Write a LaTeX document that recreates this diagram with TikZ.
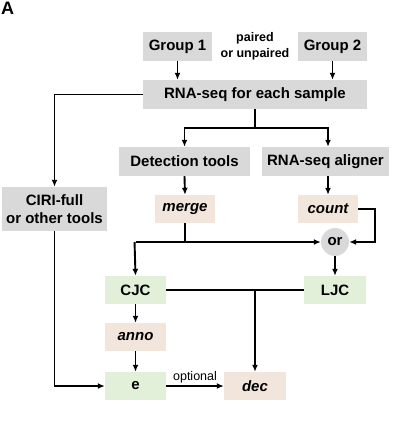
\documentclass[tikz,border=0pt]{standalone}
\usepackage{fontspec}
\setmainfont{Liberation Sans}
\usetikzlibrary{arrows.meta}
\definecolor{gbox}{HTML}{D9D9D9}
\definecolor{grbox}{HTML}{E2F0D9}
\definecolor{bgbox}{HTML}{F2E6DC}
\begin{document}
\begin{tikzpicture}[x=1pt,y=-1pt,
  box/.style={fill=gbox,inner sep=0pt,align=center,font=\fontsize{15}{16}\selectfont\bfseries},
  gbx/.style={box,fill=grbox},
  bbx/.style={box,fill=bgbox,font=\fontsize{15}{16}\selectfont\bfseries\itshape},
  conn/.style={line width=1.9pt,line cap=butt},
  arr/.style={conn,-{Latex[length=7pt,width=6pt]}}]
\useasboundingbox (0,0) rectangle (405,422);
\node[font=\fontsize{18}{20}\selectfont\bfseries] (lab) at (7.5,8.5) {A};
\node[box,minimum width=69,minimum height=29] (g1) at (177.5,46.5) {Group 1};
\node[box,minimum width=69,minimum height=29] (g2) at (332.5,46.5) {Group 2};
\node[align=center,font=\fontsize{12.5}{16}\selectfont\bfseries,inner sep=0pt] (pair) at (255,46) {paired\\or unpaired};
\node[box,minimum width=224,minimum height=29] (rna) at (255,94.5) {RNA-seq for each sample};
\node[box,minimum width=131,minimum height=29] (det) at (184.5,161.5) {Detection tools};
\node[box,minimum width=127,minimum height=29] (ali) at (325.5,161.5) {RNA-seq aligner};
\node[box,minimum width=105,minimum height=44,font=\fontsize{15}{17.5}\selectfont\bfseries] (ciri) at (54.5,209) {CIRI-full\\or other tools};
\node[bbx,minimum width=60,minimum height=28] (merge) at (185,209) {merge};
\node[bbx,minimum width=60,minimum height=28] (count) at (328,209) {count};
\node[circle,fill=gbox,minimum size=28,inner sep=0pt,font=\fontsize{15}{16}\selectfont\bfseries] (or) at (335,242) {or};
\node[gbx,minimum width=61,minimum height=28] (cjc) at (135.5,290) {CJC};
\node[gbx,minimum width=62,minimum height=28] (ljc) at (335,290) {LJC};
\node[bbx,minimum width=61,minimum height=28] (anno) at (135.5,337) {anno};
\node[gbx,minimum width=61,minimum height=28] (e) at (135.5,386) {e};
\node[bbx,minimum width=62,minimum height=28] (dec) at (255,386) {dec};
% connectors
\draw[arr] (g1) -- (g1 |- rna.north);
\draw[arr] (g2) -- (g2 |- rna.north);
\coordinate (split) at (255,128);
\draw[conn] (rna.south) -- (split);
\draw[arr] (split) -| (det.north);
\draw[arr] (split) -| (count.north |- ali.north);
\draw[arr] (rna.west) -| (ciri.north);
\draw[arr] (det.south) -- (merge.north);
\draw[arr] (count.north |- ali.south) -- (count.north);
\coordinate (jn) at (cjc.north |- or.west);
\draw[conn] (merge.south) -- (merge.south |- or.west);
\draw[arr] (jn) -- (or.west);
\draw[arr] ([xshift=-0.95pt]jn) -- (cjc.north);
\draw[arr] (count.east) -- ++(17,0) |- (or.east);
\draw[arr] (or.south) -- (ljc.north);
\draw[conn] (cjc.east) -- (ljc.west);
\draw[arr] (cjc.east -| dec.north) -- (dec.north);
\draw[arr] (cjc.south) -- (anno.north);
\draw[arr] (anno.south) -- (e.north);
\draw[arr] (ciri.south) |- (e.west);
\draw[arr] (e.east) -- node[above=2pt,font=\fontsize{12.5}{14}\selectfont,inner sep=0pt] (opt) {optional} (dec.west);
\end{tikzpicture}
\end{document}
